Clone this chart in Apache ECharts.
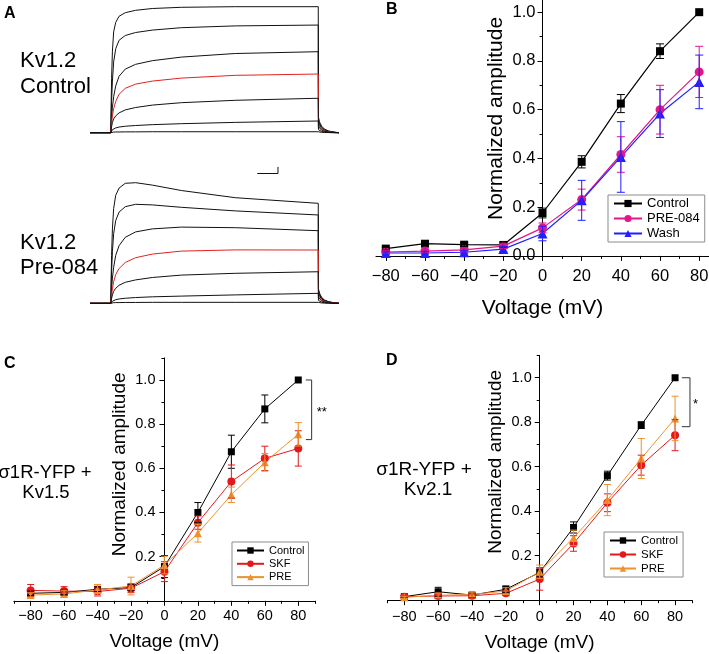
<!DOCTYPE html>
<html><head><meta charset="utf-8">
<script src="https://cdn.jsdelivr.net/npm/echarts@6/dist/echarts.min.js"></script>
<style>html,body{margin:0;padding:0;background:#fff}#c{width:709px;height:654px}</style>
</head><body><div id="c"></div>
<script>
// ---------------- DATA ----------------
const VOLTAGES = [-80, -60, -40, -20, 0, 20, 40, 60, 80];
const X_MAJOR = [-80, -60, -40, -20, 0, 20, 40, 60, 80];
const X_MINOR_B = [-70, -50, -30, -10, 10, 30, 50, 70];
const X_MINOR_CD = [-90, -70, -50, -30, -10, 10, 30, 50, 70, 90];
const Y_MAJOR_B = [0, 0.2, 0.4, 0.6, 0.8, 1.0];
const Y_MAJOR_CD = [0.2, 0.4, 0.6, 0.8, 1.0];
const Y_MINOR_B = [0.1, 0.3, 0.5, 0.7, 0.9];
const Y_MINOR_CD = [0.1, 0.3, 0.5, 0.7, 0.9, 1.1];

// Panel B
const B_CONTROL = [0.030, 0.050, 0.046, 0.045, 0.176, 0.386, 0.625, 0.840, 1.000];
const B_CONTROL_ERR = [0.006, 0.008, 0.008, 0.008, 0.020, 0.025, 0.037, 0.030, 0];
const B_PRE084 = [0.016, 0.020, 0.025, 0.040, 0.115, 0.231, 0.416, 0.600, 0.755];
const B_PRE084_ERR = [0.005, 0.006, 0.008, 0.010, 0.020, 0.043, 0.073, 0.100, 0.105];
const B_WASH = [0.012, 0.012, 0.015, 0.028, 0.092, 0.228, 0.406, 0.584, 0.714];
const B_WASH_ERR = [0.005, 0.005, 0.006, 0.010, 0.030, 0.082, 0.145, 0.098, 0.110];

// Panel C
const C_CONTROL = [0.034, 0.038, 0.052, 0.060, 0.155, 0.400, 0.675, 0.869, 1.000];
const C_CONTROL_ERR = [0.010, 0.010, 0.010, 0.015, 0.050, 0.045, 0.075, 0.063, 0];
const C_SKF = [0.047, 0.044, 0.042, 0.057, 0.132, 0.354, 0.540, 0.645, 0.690];
const C_SKF_ERR = [0.027, 0.020, 0.020, 0.020, 0.045, 0.030, 0.075, 0.055, 0.080];
const C_PRE = [0.026, 0.031, 0.049, 0.067, 0.162, 0.306, 0.480, 0.627, 0.754];
const C_PRE_ERR = [0.010, 0.015, 0.025, 0.040, 0.040, 0.040, 0.035, 0.040, 0.053];

// Panel D
const D_CONTROL = [0.016, 0.038, 0.023, 0.049, 0.125, 0.327, 0.560, 0.787, 1.000];
const D_CONTROL_ERR = [0.005, 0.020, 0.010, 0.015, 0.020, 0.025, 0.020, 0.015, 0];
const D_SKF = [0.016, 0.019, 0.020, 0.031, 0.095, 0.255, 0.438, 0.607, 0.742];
const D_SKF_ERR = [0.005, 0.010, 0.010, 0.010, 0.050, 0.035, 0.040, 0.045, 0.070];
const D_PRE = [0.013, 0.022, 0.026, 0.041, 0.128, 0.280, 0.450, 0.637, 0.817];
const D_PRE_ERR = [0.005, 0.010, 0.010, 0.015, 0.030, 0.035, 0.070, 0.090, 0.100];

// Significance brackets [xArm, xBar, yTop, yBottom]
const C_BRACKET = [84.5, 88, 1.0, 0.73];
const D_BRACKET = [84, 88.8, 1.0, 0.78];

// Panel A current traces (time in ms, current in nA)
const TRACE_TIME = [-50, 0, 1, 2, 4, 7, 12, 20, 35, 60, 100, 170, 300, 500, 500.5, 503, 508, 515, 525, 540, 550];
const CTRL_T1 = [0, 0, 2.5, 4.5, 6.8, 8.4, 9.2, 9.7, 10.0, 10.2, 10.35, 10.45, 10.5, 10.5, 1.3, 0.9, 0.55, 0.3, 0.14, 0.04, 0];
const CTRL_T2 = [0, 0, 1.4, 2.6, 4.3, 5.9, 7.0, 7.7, 8.1, 8.35, 8.55, 8.75, 8.9, 8.97, 1.1, 0.75, 0.45, 0.25, 0.12, 0.03, 0];
const CTRL_T3 = [0, 0, 0.6, 1.2, 2.1, 3.0, 3.9, 4.7, 5.3, 5.7, 6.0, 6.3, 6.6, 6.75, 0.9, 0.6, 0.36, 0.2, 0.1, 0.03, 0];
const CTRL_T4 = [0, 0, 0.4, 0.8, 1.4, 2.0, 2.6, 3.2, 3.7, 4.05, 4.3, 4.55, 4.78, 4.89, 0.7, 0.48, 0.28, 0.15, 0.07, 0.02, 0];
const CTRL_T5 = [0, 0, 0.25, 0.5, 0.85, 1.15, 1.4, 1.65, 1.9, 2.1, 2.3, 2.5, 2.7, 2.87, 0.5, 0.34, 0.2, 0.11, 0.05, 0.01, 0];
const CTRL_T6 = [0, 0, 0.08, 0.15, 0.25, 0.33, 0.4, 0.47, 0.54, 0.6, 0.67, 0.75, 0.86, 0.975, 0.25, 0.17, 0.1, 0.05, 0.02, 0, 0];
const CTRL_T7 = [0, 0, 0.02, 0.03, 0.04, 0.05, 0.06, 0.06, 0.07, 0.07, 0.08, 0.08, 0.08, 0.08, 0.08, 0.05, 0.03, 0.02, 0.01, 0, 0];
const PRE_T1 = [0, 0, 2.2, 4.0, 6.2, 7.9, 9.0, 9.6, 10.0, 10.05, 9.85, 9.4, 8.8, 8.33, 1.2, 0.85, 0.5, 0.28, 0.13, 0.04, 0];
const PRE_T2 = [0, 0, 1.4, 2.6, 4.3, 5.8, 6.9, 7.6, 8.05, 8.25, 8.2, 8.0, 7.7, 7.36, 1.05, 0.72, 0.43, 0.24, 0.11, 0.03, 0];
const PRE_T3 = [0, 0, 0.6, 1.2, 2.1, 3.0, 4.0, 4.8, 5.5, 5.95, 6.2, 6.35, 6.3, 6.05, 0.88, 0.6, 0.36, 0.2, 0.1, 0.03, 0];
const PRE_T4 = [0, 0, 0.35, 0.7, 1.2, 1.8, 2.4, 2.9, 3.4, 3.8, 4.1, 4.35, 4.45, 4.44, 0.68, 0.46, 0.27, 0.15, 0.07, 0.02, 0];
const PRE_T5 = [0, 0, 0.2, 0.4, 0.7, 1.0, 1.25, 1.5, 1.75, 1.95, 2.15, 2.35, 2.5, 2.63, 0.48, 0.33, 0.2, 0.11, 0.05, 0.01, 0];
const PRE_T6 = [0, 0, 0.05, 0.1, 0.17, 0.24, 0.3, 0.36, 0.42, 0.48, 0.54, 0.6, 0.7, 0.83, 0.24, 0.16, 0.1, 0.05, 0.02, 0, 0];
const PRE_T7 = [0, 0, 0.02, 0.03, 0.04, 0.05, 0.06, 0.06, 0.07, 0.07, 0.08, 0.08, 0.08, 0.08, 0.08, 0.05, 0.03, 0.02, 0.01, 0, 0];
const SCALE_BAR = [[353, -3.4], [403, -3.4], [403, -2.85]];

// ---------------- STYLE / BUILD ----------------
const FONT = "'Liberation Sans', Arial, Helvetica, sans-serif";
const BLACK = '#000000', MAGENTA = '#e3168a', BLUE = '#1f1fff', RED = '#e4181c', ORANGE = '#ef912c', TRACE_RED = '#e0231f';
const fmtX = v => v < 0 ? '\u2212' + Math.abs(v) : String(v);
const fmtY = v => Number(v).toFixed(1);
const zip = (xs, ys) => xs.map((x, i) => [x, ys[i]]);
const zip3 = (xs, ys, es) => xs.map((x, i) => [x, ys[i], es[i]]);

function hiddenAxis(grid, min, max) {
  return { type: 'value', gridIndex: grid, min, max, show: false, splitLine: { show: false } };
}
function mainX(grid, min, max, fs, margin, nameSize, nameGap) {
  return {
    type: 'value', gridIndex: grid, min, max, position: 'bottom',
    axisLine: { onZero: false, lineStyle: { color: BLACK, width: 1 } },
    axisTick: { show: true, length: 5, customValues: X_MAJOR, lineStyle: { color: BLACK, width: 1 } },
    axisLabel: { customValues: X_MAJOR, formatter: fmtX, fontSize: fs, color: BLACK, margin },
    splitLine: { show: false },
    name: 'Voltage (mV)', nameLocation: 'middle', nameGap, nameMoveOverlap: false,
    nameTextStyle: { fontSize: nameSize, color: BLACK }
  };
}
function minorX(grid, min, max, vals) {
  return {
    type: 'value', gridIndex: grid, min, max, position: 'bottom',
    axisLine: { show: false, onZero: false },
    axisTick: { show: true, length: 3, customValues: vals, lineStyle: { color: BLACK, width: 1 } },
    axisLabel: { show: false }, splitLine: { show: false }
  };
}
function mainY(grid, min, max, majors, fs, margin, nameSize, nameGap, shift) {
  return {
    type: 'value', gridIndex: grid, min, max, position: 'left',
    axisLine: { show: true, onZero: false, lineStyle: { color: BLACK, width: 1 } },
    axisTick: { show: true, length: 5, customValues: majors, lineStyle: { color: BLACK, width: 1 } },
    axisLabel: { customValues: majors, formatter: fmtY, fontSize: fs, color: BLACK, margin },
    splitLine: { show: false },
    name: 'Normalized amplitude', nameLocation: 'middle', nameGap, nameMoveOverlap: false,
    nameTextStyle: { fontSize: nameSize, color: BLACK, padding: [0, 0, 0, shift] }
  };
}
function minorY(grid, min, max, vals) {
  return {
    type: 'value', gridIndex: grid, min, max, position: 'left',
    axisLine: { show: false, onZero: false },
    axisTick: { show: true, length: 3, customValues: vals, lineStyle: { color: BLACK, width: 1 } },
    axisLabel: { show: false }, splitLine: { show: false }
  };
}
function lineSeries(name, xi, yi, ys, color, symbol, size, lw) {
  return {
    name, type: 'line', xAxisIndex: xi, yAxisIndex: yi, data: zip(VOLTAGES, ys),
    symbol, symbolSize: size, showSymbol: true, color,
    itemStyle: { color }, lineStyle: { color, width: lw }, z: 3, animation: false
  };
}
function errSeries(xi, yi, ys, es, color, cap, lw) {
  return {
    type: 'custom', xAxisIndex: xi, yAxisIndex: yi, data: zip3(VOLTAGES, ys, es), z: 4,
    silent: true, animation: false, encode: { x: 0, y: 1 },
    renderItem(params, api) {
      const x = api.value(0), y = api.value(1), e = api.value(2);
      if (!e) return null;
      const t = api.coord([x, y + e]), b = api.coord([x, y - e]), h = cap / 2;
      const st = { stroke: color, lineWidth: lw };
      return { type: 'group', children: [
        { type: 'line', shape: { x1: t[0], y1: t[1], x2: b[0], y2: b[1] }, style: st },
        { type: 'line', shape: { x1: t[0] - h, y1: t[1], x2: t[0] + h, y2: t[1] }, style: st },
        { type: 'line', shape: { x1: b[0] - h, y1: b[1], x2: b[0] + h, y2: b[1] }, style: st }
      ] };
    }
  };
}
function traceSeries(ax, ys, color) {
  return { type: 'line', xAxisIndex: ax, yAxisIndex: ax, data: zip(TRACE_TIME, ys), showSymbol: false,
    symbol: 'none', lineStyle: { color, width: 1 }, color, silent: true, animation: false, z: 2 };
}
function bracketSeries(xi, yi, br) {
  const [x0, x1, yt, yb] = br;
  return { type: 'line', xAxisIndex: xi, yAxisIndex: yi, data: [[x0, yt], [x1, yt], [x1, yb], [x0, yb]],
    symbol: 'none', lineStyle: { color: '#333', width: 1 }, silent: true, animation: false };
}
function legendBox(left, top, names, fs, lh, gap, iw, ih, pad) {
  return { show: true, orient: 'vertical', left, top, data: names, selectedMode: false,
    itemWidth: iw, itemHeight: ih, itemGap: gap, padding: pad,
    borderColor: '#8c8c8c', borderWidth: 1, backgroundColor: '#fff',
    textStyle: { fontSize: fs, lineHeight: lh, color: BLACK } };
}

const CTRL_TRACES = [CTRL_T1, CTRL_T2, CTRL_T3, CTRL_T4, CTRL_T5, CTRL_T6, CTRL_T7];
const PRE_TRACES = [PRE_T1, PRE_T2, PRE_T3, PRE_T4, PRE_T5, PRE_T6, PRE_T7];

// axis indices: x 2/3 = B, 4/5 = C, 6/7 = D ; data y: 2 = B, 3 = C, 4 = D
const series = [];
CTRL_TRACES.forEach((t, i) => series.push(traceSeries(0, t, i === 3 ? TRACE_RED : '#111')));
PRE_TRACES.forEach((t, i) => series.push(traceSeries(1, t, i === 3 ? TRACE_RED : '#111')));
series.push({ type: 'line', xAxisIndex: 0, yAxisIndex: 0, data: SCALE_BAR, symbol: 'none',
  lineStyle: { color: '#111', width: 1 }, silent: true, animation: false });

series.push(lineSeries('Control', 2, 2, B_CONTROL, BLACK, 'rect', 8, 1.2));
series.push(lineSeries('PRE-084', 2, 2, B_PRE084, MAGENTA, 'circle', 9, 1.2));
series.push(lineSeries('Wash', 2, 2, B_WASH, BLUE, 'triangle', 10, 1.2));
series.push(errSeries(2, 2, B_CONTROL, B_CONTROL_ERR, BLACK, 8, 1));
series.push(errSeries(2, 2, B_PRE084, B_PRE084_ERR, MAGENTA, 8, 1));
series.push(errSeries(2, 2, B_WASH, B_WASH_ERR, BLUE, 8, 1));

series.push(lineSeries('Control', 4, 3, C_CONTROL, BLACK, 'rect', 7, 1));
series.push(lineSeries('SKF', 4, 3, C_SKF, RED, 'circle', 8, 1));
series.push(lineSeries('PRE', 4, 3, C_PRE, ORANGE, 'triangle', 8, 1));
series.push(errSeries(4, 3, C_CONTROL, C_CONTROL_ERR, BLACK, 7, 1));
series.push(errSeries(4, 3, C_SKF, C_SKF_ERR, RED, 7, 1));
series.push(errSeries(4, 3, C_PRE, C_PRE_ERR, ORANGE, 7, 1));
series.push(bracketSeries(4, 3, C_BRACKET));

series.push(lineSeries('Control', 6, 4, D_CONTROL, BLACK, 'rect', 7, 1));
series.push(lineSeries('SKF', 6, 4, D_SKF, RED, 'circle', 8, 1));
series.push(lineSeries('PRE', 6, 4, D_PRE, ORANGE, 'triangle', 8, 1));
series.push(errSeries(6, 4, D_CONTROL, D_CONTROL_ERR, BLACK, 7, 1));
series.push(errSeries(6, 4, D_SKF, D_SKF_ERR, RED, 7, 1));
series.push(errSeries(6, 4, D_PRE, D_PRE_ERR, ORANGE, 7, 1));
series.push(bracketSeries(6, 4, D_BRACKET));

function txt(id, x, y, text, size, opts) {
  return { id, type: 'text', x, y, silent: true,
    style: Object.assign({ text, fontSize: size, fontFamily: FONT, fill: BLACK,
      textAlign: 'left', textVerticalAlign: 'middle' }, (opts || {})) };
}

// panel geometry (pixels)
const GB = { left: 376, top: 0, width: 333, height: 255.9 };
const GC = { left: 13.9, top: 357.9, width: 301.1, height: 242.9 };
const GD = { left: 387.4, top: 355.5, width: 304.6, height: 244.7 };
const zeroX = (g, min, max) => g.left + g.width * (0 - min) / (max - min);
const axisGrid = (g, min, max) => ({ left: zeroX(g, min, max), top: g.top, width: 40, height: g.height, outerBoundsMode: 'none' });

const option = {
  animation: false,
  textStyle: { fontFamily: FONT },
  grid: [
    { left: 90, top: 0.7, width: 249, height: 180, outerBoundsMode: 'none' },
    { left: 90, top: 171.3, width: 249, height: 144, outerBoundsMode: 'none' },
    Object.assign({ outerBoundsMode: 'none' }, GB), axisGrid(GB, -85, 85),
    Object.assign({ outerBoundsMode: 'none' }, GC), axisGrid(GC, -90, 90),
    Object.assign({ outerBoundsMode: 'none' }, GD), axisGrid(GD, -90, 90)
  ],
  xAxis: [
    hiddenAxis(0, -50, 550), hiddenAxis(1, -50, 550),
    mainX(2, -85, 85, 16.5, 12, 21, 42), minorX(2, -85, 85, X_MINOR_B),
    mainX(4, -90, 90, 14.5, 8, 19, 31), minorX(4, -90, 90, X_MINOR_CD),
    mainX(6, -90, 90, 14.5, 9, 19, 33), minorX(6, -90, 90, X_MINOR_CD),
    hiddenAxis(3, 0, 1), hiddenAxis(5, 0, 1), hiddenAxis(7, 0, 1)
  ],
  yAxis: [
    hiddenAxis(0, -4, 11), hiddenAxis(1, -1, 11),
    hiddenAxis(2, 0, 1.05), hiddenAxis(4, 0, 1.1), hiddenAxis(6, 0, 1.1),
    mainY(3, 0, 1.05, Y_MAJOR_B, 16.5, 7, 21, 36, 19), minorY(3, 0, 1.05, Y_MINOR_B),
    mainY(5, 0, 1.1, Y_MAJOR_CD, 14.5, 9, 19, 35, 30), minorY(5, 0, 1.1, Y_MINOR_CD),
    mainY(7, 0, 1.1, Y_MAJOR_CD, 14.5, 8, 19, 34, 32), minorY(7, 0, 1.1, Y_MINOR_CD)
  ],
  legend: [
    legendBox(608, 195, ['Control', 'PRE-084', 'Wash'], 13, 13, 2, 28, 9, [2, 5, 2, 5]),
    legendBox(232, 542, ['Control', 'SKF', 'PRE'], 11, 12, 1.3, 27, 8, [2.5, 4, 2.5, 4]),
    legendBox(604, 532, ['Control', 'SKF', 'PRE'], 11.5, 12, 2, 26, 8, [2.5, 5, 2.5, 5])
  ],
  graphic: [
    txt('lblA', 4, 14, 'A', 16, { fontWeight: 'bold' }),
    txt('lblB', 386, 10, 'B', 16, { fontWeight: 'bold' }),
    txt('lblC', 4, 364, 'C', 16, { fontWeight: 'bold' }),
    txt('lblD', 386, 361, 'D', 16, { fontWeight: 'bold' }),
    txt('a1', 20, 61, 'Kv1.2', 22),
    txt('a2', 20, 87, 'Control', 22),
    txt('a3', 20, 243, 'Kv1.2', 22),
    txt('a4', 20, 268, 'Pre-084', 22),
    txt('c1', 45, 473, '\u03c31R-YFP +', 18.5, { textAlign: 'center' }),
    txt('c2', 46, 493, 'Kv1.5', 18.5, { textAlign: 'center' }),
    txt('d1', 424, 470, '\u03c31R-YFP +', 19, { textAlign: 'center' }),
    txt('d2', 428, 490, 'Kv2.1', 19, { textAlign: 'center' })
  ],
  series
};

const chart = echarts.init(document.getElementById('c'), null, { renderer: 'canvas' });
chart.setOption(option);

// significance stars beside the brackets
const pc = chart.convertToPixel({ xAxisIndex: 4, yAxisIndex: 3 }, [C_BRACKET[1], (C_BRACKET[2] + C_BRACKET[3]) / 2]);
const pd = chart.convertToPixel({ xAxisIndex: 6, yAxisIndex: 4 }, [D_BRACKET[1], (D_BRACKET[2] + D_BRACKET[3]) / 2]);
chart.setOption({ graphic: [
  txt('starC', pc[0] + 5, pc[1] + 3, '**', 13),
  txt('starD', pd[0] + 3, pd[1] + 2, '*', 13)
] });
</script>
</body></html>
